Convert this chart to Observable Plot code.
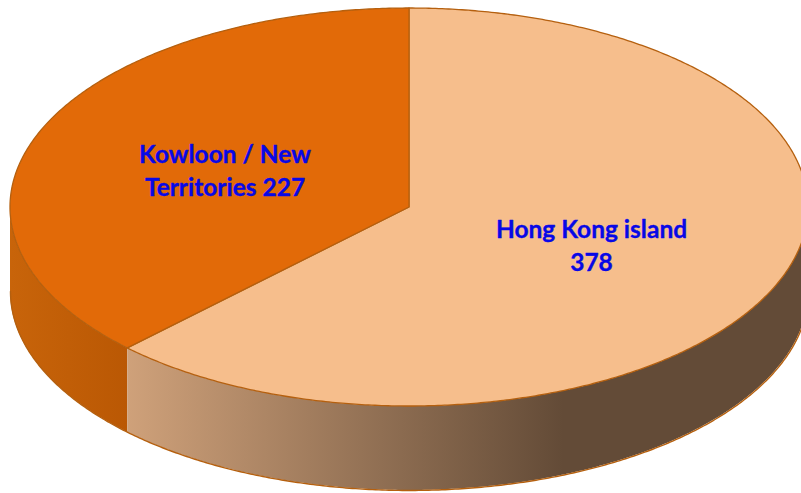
<!DOCTYPE html>
<html>
<head>
<meta charset="utf-8">
<style>html,body{margin:0;padding:0;background:#fff}svg{display:block}</style>
<script src="https://cdn.jsdelivr.net/npm/d3@7"></script>
<script src="https://cdn.jsdelivr.net/npm/@observablehq/plot@0.6"></script>
</head>
<body>
<div id="chart"></div>
<script>
const categories = ["Hong Kong island", "Kowloon / New Territories"];
const values = [378, 227];
const labelTexts = ["Hong Kong island\n378", "Kowloon / New\nTerritories 227"];
const topColors = ["#F6BE8C", "#E26A08"];
const edgeColor = "#B5600F";
const thickness = 0.422;   // wall height in pie radii
const labelRadius = 0.497;

const total = d3.sum(values);
let acc = 0;
const slices = values.map((v, i) => {
  const a0 = acc / total * 2 * Math.PI; acc += v;
  const a1 = acc / total * 2 * Math.PI;
  return {i, a0, a1, mid: (a0 + a1) / 2};
});
const rim = (a0, a1) => {
  const n = Math.max(2, Math.ceil((a1 - a0) * 120));
  return d3.range(n + 1).map(k => {
    const a = a0 + (a1 - a0) * k / n;
    return {x: Math.sin(a), y: Math.cos(a)};
  });
};
const q = Math.PI / 2;
const wallPale = rim(q, slices[0].a1);
const wallDark = rim(slices[1].a0, 3 * q);

const gradient = (id, stops) => () => {
  const s = d3.create("svg:linearGradient").attr("id", id);
  stops.forEach(([o, c]) => s.append("stop").attr("offset", o).attr("stop-color", c));
  return d3.create("svg:defs").call(d => d.node().appendChild(s.node())).node();
};
const wallMark = (pts, fill) => Plot.areaY(pts, {
  x: "x", y1: d => d.y, y2: d => d.y - thickness, fill
});
const wallEdge = (pts) => Plot.line(pts, {
  x: "x", y: d => d.y - thickness, stroke: edgeColor, strokeWidth: 1.4
});
const topMark = (s) => Plot.area(rim(s.a0, s.a1), {
  x1: () => 0, y1: () => 0, x2: "x", y2: "y",
  fill: topColors[s.i], stroke: edgeColor, strokeWidth: 1.3
});

const plot = Plot.plot({
  width: 801, height: 493,
  margin: 0,
  x: {domain: [-1, 1], range: [10, 808], axis: null},
  y: {domain: [1, -1], range: [8, 406], axis: null},
  marks: [
    gradient("wallPaleGrad", [[0, "#CFA17A"], [0.64, "#634B37"], [1, "#634B37"]]),
    gradient("wallDarkGrad", [[0, "#C8640A"], [1, "#BA5804"]]),
    wallMark(wallDark, "url(#wallDarkGrad)"),
    wallMark(wallPale.slice().reverse(), "url(#wallPaleGrad)"),
    wallEdge(wallDark),
    wallEdge(wallPale),
    ...slices.map(topMark),
    Plot.text(slices, {
      x: s => labelRadius * Math.sin(s.mid),
      y: s => labelRadius * Math.cos(s.mid),
      dx: -1.25, dy: -1,
      text: s => labelTexts[s.i],
      fontFamily: "Lato", fontWeight: 700, fontSize: 24.5, lineHeight: 1.35,
      fill: "#0808E6", stroke: "#0808E6", strokeWidth: 0.35
    })
  ]
});
document.getElementById("chart").appendChild(plot);
</script>
</body>
</html>
